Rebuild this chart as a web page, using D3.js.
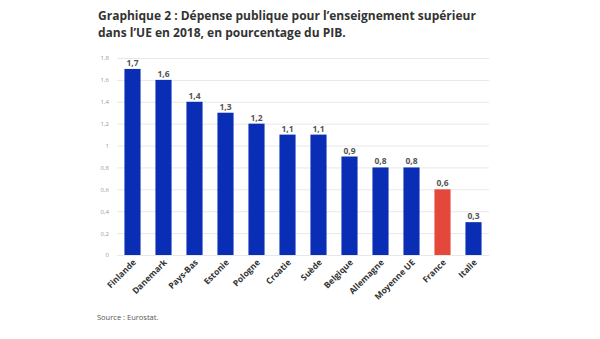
<!DOCTYPE html>
<html>
<head>
<meta charset="utf-8">
<script src="https://cdn.jsdelivr.net/npm/d3@7"></script>
<style>
  body { margin: 0; background: #fff; }
  svg { display: block; font-family: "Open Sans", sans-serif; }
</style>
</head>
<body>
<div id="chart"></div>
<script>
const pays = ["Finlande", "Danemark", "Pays-Bas", "Estonie", "Pologne", "Croatie", "Suède", "Belgique", "Allemagne", "Moyenne UE", "France", "Italie"]
const depense = [1.7, 1.6, 1.4, 1.3, 1.2, 1.1, 1.1, 0.9, 0.8, 0.8, 0.6, 0.3]
const graduations = [0, 0.2, 0.4, 0.6, 0.8, 1, 1.2, 1.4, 1.6, 1.8]

const ancho = 600
const alto = 339
const margen = { izquierdo: 117, derecho: 111, superior: 58, inferior: 84 }

const svg = d3.select("#chart").append("svg").attr("width", ancho).attr("height", alto)

// titre sur deux lignes
const titre = svg.append("text").attr("x", 98).attr("fill", "#333")
    .attr("font-size", 12).attr("font-weight", 700)
titre.append("tspan").attr("x", 98).attr("y", 20).text("Graphique 2 : Dépense publique pour l’enseignement supérieur")
titre.append("tspan").attr("x", 98).attr("y", 37).text("dans l’UE en 2018, en pourcentage du PIB.")

const x = d3.scaleBand().domain(pays)
    .range([margen.izquierdo, ancho - margen.derecho]).paddingInner(0.48).paddingOuter(0.24)
const y = d3.scaleLinear().domain([0, 1.8]).range([alto - margen.inferior, margen.superior])

// grille horizontale
const ejeY = d3.axisLeft(y).tickValues(graduations)
    .tickSize(-(ancho - margen.izquierdo - margen.derecho))
    .tickFormat(d => d3.format("")(d).replace(".", ","))
svg.append("g").attr("transform", `translate(${margen.izquierdo},0)`).call(ejeY)
    .call(g => g.select(".domain").remove())
    .call(g => g.selectAll("line").attr("stroke", "#e8e8e8"))
    .call(g => g.selectAll("text").attr("x", -8).attr("fill", "#999").attr("font-size", 6)
        .attr("font-family", "Open Sans, sans-serif"))

// barres
svg.append("g").selectAll("rect").data(pays).enter().append("rect")
    .attr("x", d => x(d))
    .attr("y", (d, i) => y(depense[i]))
    .attr("width", x.bandwidth())
    .attr("height", (d, i) => y(0) - y(depense[i]))
    .attr("fill", d => d === "France" ? "#e4483b" : "#0a2db5")

// valeurs au-dessus des barres
svg.append("g").selectAll("text").data(pays).enter().append("text")
    .attr("x", d => x(d) + x.bandwidth() / 2)
    .attr("y", (d, i) => y(depense[i]) - 3)
    .attr("text-anchor", "middle")
    .attr("font-size", 8.5).attr("font-weight", 700).attr("fill", "#555")
    .text((d, i) => String(depense[i]).replace(".", ","))

// libellés des pays, inclinés
const ejeX = d3.axisBottom(x).tickSize(0).tickPadding(0)
svg.append("g").attr("transform", `translate(0,${y(0)})`).call(ejeX)
    .call(g => g.select(".domain").remove())
    .call(g => g.selectAll("text")
        .attr("font-family", "Open Sans, sans-serif").attr("font-size", 8.5).attr("font-weight", 700)
        .attr("fill", "#333").attr("text-anchor", "end").attr("dy", null).attr("y", 0)
        .attr("transform", "translate(4,8) rotate(-45)"))

svg.append("text").attr("x", 97).attr("y", 320).attr("font-size", 7.5).attr("fill", "#555")
    .text("Source : Eurostat.")
</script>
</body>
</html>
